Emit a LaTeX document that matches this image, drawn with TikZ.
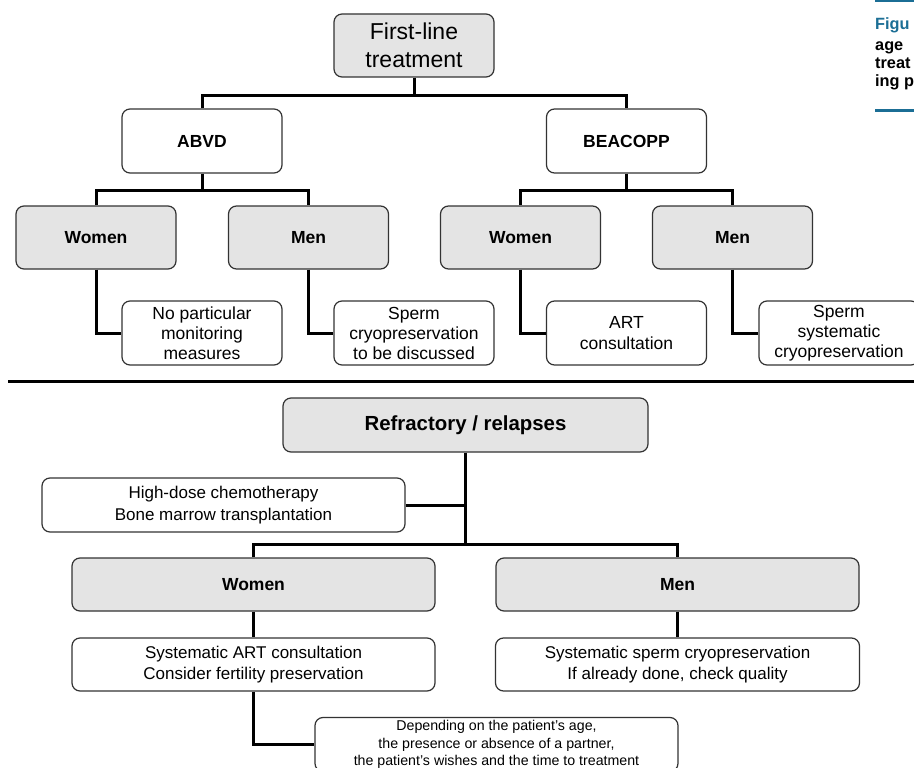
\documentclass[tikz,border=0pt]{standalone}
\usepackage{fontspec}
\setmainfont{Liberation Sans}
\definecolor{boxgray}{HTML}{E4E4E4}
\definecolor{capblue}{HTML}{1B6E95}
\begin{document}
\begin{tikzpicture}[x=1pt,y=-1pt,
  box/.style={draw=black!80, line width=1.2pt, rounded corners=8pt, fill=white,
    minimum width=160pt, minimum height=63pt, inner sep=1pt, align=center,
    font=\fontsize{17.5}{20}\selectfont},
  gbox/.style={box, fill=boxgray},
  lbl/.style={font=\fontsize{17.5}{20}\selectfont\bfseries},
  conn/.style={line width=3pt, black},
  captext/.style={anchor=base west, inner sep=0pt, font=\fontsize{16.3}{18}\selectfont\bfseries}
]
\useasboundingbox (0,0) rectangle (914,768);
\fill[white] (0,0) rectangle (914,768);

% caption fragments (as far as the reference shows them)
\draw[capblue, line width=2pt] (875,1) -- (920,1);
\node[captext, text=capblue] (capa) at (875,29.5) {Figu};
\node[captext] (capb) at (875,51) {age};
\node[captext] (capc) at (875,68.5) {treat};
\node[captext] (capd) at (875,87) {ing p};
\draw[capblue, line width=3pt] (875,111) -- (920,111);

% ---------- first-line treatment ----------
\node[gbox, font=\fontsize{23}{28}\selectfont] (flt) at (414,45.5) {First-line\\treatment};
\node[box, minimum height=64pt, lbl] (abvd) at (202,141) {ABVD};
\node[box, minimum height=64pt, lbl] (beacopp) at (626.5,141) {BEACOPP};

\node[gbox, lbl] (w1) at (96,237.5) {Women};
\node[gbox, lbl] (m1) at (308.5,237.5) {Men};
\node[gbox, lbl] (w2) at (520.5,237.5) {Women};
\node[gbox, lbl] (m2) at (732.5,237.5) {Men};

\node[box, minimum height=64pt] (c1) at (202,333) {No particular\\monitoring\\measures};
\node[box, minimum height=64pt] (c2) at (414,333) {Sperm\\cryopreservation\\to be discussed};
\node[box, minimum height=64pt, font=\fontsize{17.5}{21}\selectfont] (c3) at (626.5,333) {ART\\consultation};
\node[box, minimum height=64pt] (c4) at (839,333) {Sperm\\systematic\\cryopreservation};

\draw[conn] (flt.south) -- ++(0,19.5);
\draw[conn] (abvd.north) -- ++(0,-12.5) -| (beacopp.north);
\draw[conn] (w1.north) -- ++(0,-14.5) -| (m1.north);
\draw[conn] (abvd.south) -- ++(0,18.5);
\draw[conn] (w2.north) -- ++(0,-14.5) -| (m2.north);
\draw[conn] (beacopp.south) -- ++(0,18.5);

\draw[conn] (w1.south) |- (c1.west);
\draw[conn] (m1.south) |- (c2.west);
\draw[conn] (w2.south) |- (c3.west);
\draw[conn] (m2.south) |- (c4.west);

% separator
\coordinate (sepl) at (8,381.5);
\coordinate (sepr) at (914,381.5);
\draw[conn] (sepl) -- (sepr);

% ---------- refractory / relapses ----------
\node[gbox, minimum width=365pt, minimum height=54pt, font=\fontsize{20.4}{24}\selectfont\bfseries] (ref) at (465.5,425) {Refractory / relapses};
\node[box, minimum width=363pt, minimum height=54pt, font=\fontsize{17}{22}\selectfont] (hd) at (223.5,505) {High-dose chemotherapy\\Bone marrow transplantation};
\node[gbox, minimum width=363pt, minimum height=53pt, lbl] (w3) at (253.5,584.5) {Women};
\node[gbox, minimum width=363pt, minimum height=53pt, lbl] (m3) at (677.5,584.5) {Men};
\node[box, minimum width=363pt, minimum height=53pt, font=\fontsize{17}{21}\selectfont] (wc) at (253.5,664.5) {Systematic ART consultation\\Consider fertility preservation};
\node[box, minimum width=364pt, minimum height=53pt, font=\fontsize{17}{21}\selectfont] (mc) at (677.5,664.5) {Systematic sperm cryopreservation\\If already done, check quality};
\node[box, minimum width=363pt, minimum height=54pt, font=\fontsize{14.2}{17.3}\selectfont] (dep) at (496.5,744.5) {Depending on the patient’s age,\\the presence or absence of a partner,\\the patient’s wishes and the time to treatment};

\coordinate (j2) at (465.5,544);
\draw[conn] (ref.south) -- (j2);
\draw[conn] (hd.east) -- (hd.east -| j2);
\draw[conn] (w3.north) |- (j2) -| (m3.north);
\draw[conn] (w3.south) -- (wc.north);
\draw[conn] (m3.south) -- (mc.north);
\draw[conn] (wc.south) |- (dep.west);
\end{tikzpicture}
\end{document}
